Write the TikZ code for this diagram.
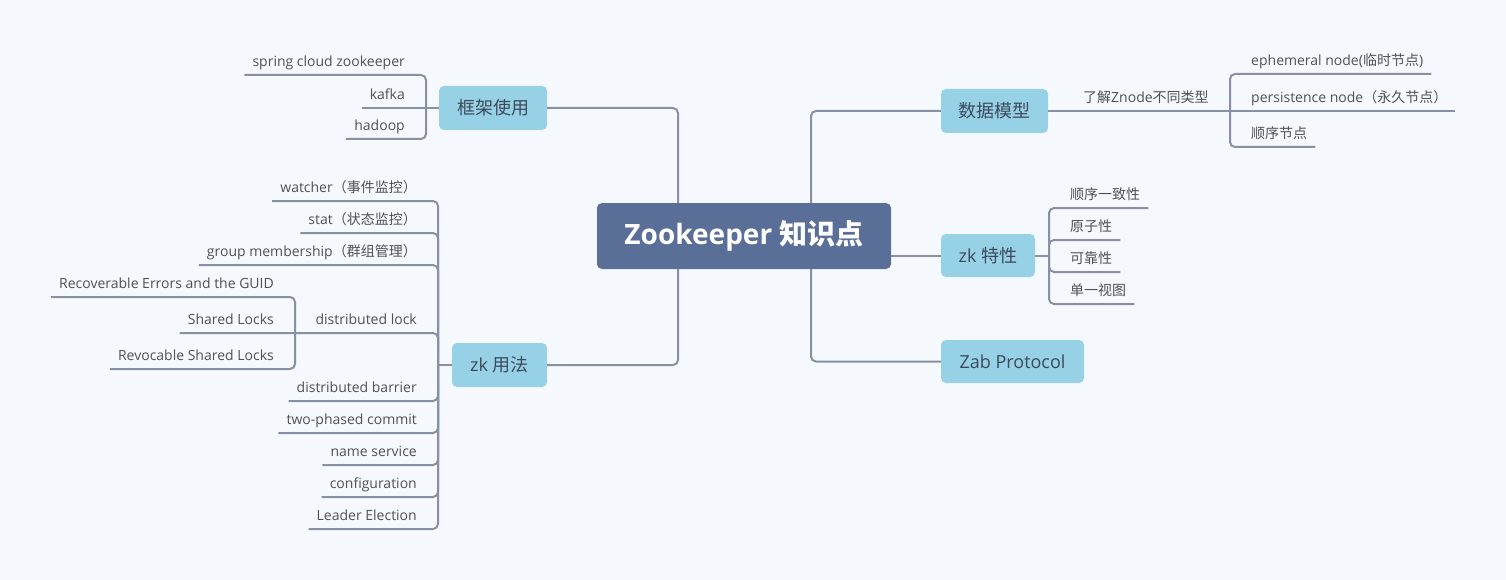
\documentclass[tikz,border=0pt]{standalone}
\usepackage{fontspec}
\setmainfont{Open Sans}
\newfontfamily\cjkfont{Noto Sans CJK SC}
\definecolor{pagebg}{HTML}{F5F9FD}
\definecolor{linegray}{HTML}{8891A4}
\definecolor{topicblue}{HTML}{96D1E6}
\definecolor{rootblue}{HTML}{5A6F97}
\definecolor{topictext}{HTML}{3E4A5B}
\definecolor{leaftext}{HTML}{4E5257}

\begin{document}
\begin{tikzpicture}[x=1pt,y=-1pt,
    branch/.style={draw=linegray,line width=2pt,rounded corners=5pt},
    topic/.style={fill=topicblue,rounded corners=5pt,inner sep=0,minimum height=44pt,text=topictext,font=\topicfontsize},
    leaf/.style={inner xsep=8pt,inner ysep=5pt,text height=11pt,text depth=3pt,text=leaftext,font=\leaffontsize},
    leafl/.style={leaf,anchor=south east},
    leafr/.style={leaf,anchor=south west}]
    \pgfmathsetmacro{\lefttrunk}{678}
    \pgfmathsetmacro{\righttrunk}{811}
    \pgfmathsetmacro{\fwbracket}{426}
    \pgfmathsetmacro{\usebracket}{438}
    \pgfmathsetmacro{\lockbracket}{295}
    \pgfmathsetmacro{\modelbracket}{1230}
    \pgfmathsetmacro{\featbracket}{1049}
    \pgfmathsetmacro{\gap}{13}
    % \pgfmathsetmacro{\gap}{12}
    \providecommand{\rootfontsize}{\fontsize{28}{32}\selectfont\bfseries}
    \providecommand{\topicfontsize}{\fontsize{18}{22}\selectfont}
    \providecommand{\leaffontsize}{\fontsize{14}{17}\selectfont}
    \fill[pagebg] (0,0) rectangle (1506,580);
    \coordinate (lt) at (\lefttrunk,0);
    \coordinate (rt) at (\righttrunk,0);
    \coordinate (fwj) at (\fwbracket,108);
    \coordinate (uj) at (\usebracket,365);
    \coordinate (dlj) at (\lockbracket,333);
    \coordinate (mj) at (\modelbracket,111);
    \coordinate (ftj) at (\featbracket,255.5);
    \node[fill=rootblue,rounded corners=5pt,minimum width=294pt,minimum height=66pt,inner sep=0,text=white,font=\rootfontsize] (root) at (744,236) {Zookeeper {\cjkfont 知识点}};
    \node[topic,minimum width=108pt] (fw) at (493,108) {\cjkfont 框架使用};
    \node[topic,minimum width=95pt] (usage) at (499.5,365) {zk {\cjkfont 用法}};
    \node[topic,minimum width=107pt] (model) at (994.5,111) {\cjkfont 数据模型};
    \node[topic,minimum width=94pt,minimum height=43pt] (feat) at (988,255.5) {zk {\cjkfont 特性}};
    \node[topic,minimum width=143pt,minimum height=43pt] (zab) at (1012.5,361.5) {Zab Protocol};
    \draw[branch] (fw.east) -| (root.north -| lt);
    \draw[branch] (usage.east) -| (root.south -| lt);
    \draw[branch] (root.north -| rt) |- (model.west);
    \draw[branch] (root.south -| rt) |- (zab.west);
    \draw[branch] (feat.west -| root.east) -- (feat.west);
    % framework
    \node[leafl] (sc) at (\fwbracket-\gap,75) {spring cloud zookeeper};
    \node[leafl] (kafka) at (\fwbracket-\gap,108) {kafka};
    \node[leafl] (hadoop) at (\fwbracket-\gap,139) {hadoop};
    \draw[branch] (fw.west) -- (fwj);
    \draw[branch] (fwj) |- (sc.south west);
    \draw[branch] (fwj) -- (kafka.south west);
    \draw[branch] (fwj) |- (hadoop.south west);
    % usage
    \node[leafl] (watcher) at (\usebracket-\gap,201) {watcher{\cjkfont （事件监控）}};
    \node[leafl] (stat) at (\usebracket-\gap,233) {stat{\cjkfont （状态监控）}};
    \node[leafl] (group) at (\usebracket-\gap,265) {group membership{\cjkfont （群组管理）}};
    \node[leafl] (dlock) at (\usebracket-\gap,333) {distributed lock};
    \node[leafl] (barrier) at (\usebracket-\gap,401) {distributed barrier};
    \node[leafl] (commit) at (\usebracket-\gap,433) {two-phased commit};
    \node[leafl] (naming) at (\usebracket-\gap,465) {name service};
    \node[leafl] (config) at (\usebracket-\gap,497) {configuration};
    \node[leafl] (leader) at (\usebracket-\gap,529) {Leader Election};
    \node[leafl] (rec) at (\lockbracket-\gap,297) {Recoverable Errors and the GUID};
    \node[leafl] (shared) at (\lockbracket-\gap,333) {Shared Locks};
    \node[leafl] (rev) at (\lockbracket-\gap,369) {Revocable Shared Locks};
    \draw[branch] (usage.west) -- (uj);
    \foreach \n in {watcher,stat,group,barrier,commit,naming,config,leader}
        \draw[branch] (uj) |- (\n.south west);
    \draw[branch] (uj) |- (dlock.south west) -- (dlj) -- (shared.south west);
    \draw[branch] (dlj) |- (rec.south west);
    \draw[branch] (dlj) |- (rev.south west);
    % data model
    \node[leafr] (ztype) at (1075,111) {{\cjkfont 了解}Znode{\cjkfont 不同类型}};
    \node[leafr] (eph) at (\modelbracket+\gap,74) {ephemeral node({\cjkfont 临时节点})};
    \node[leafr] (pers) at (\modelbracket+\gap,111) {persistence node{\cjkfont （永久节点）}};
    \node[leafr] (seqn) at (\modelbracket+\gap,147) {\cjkfont 顺序节点};
    \draw[branch] (model.east) -- (ztype.south west) -- (mj);
    \draw[branch] (mj) |- (eph.south east);
    \draw[branch] (mj) -- (pers.south east);
    \draw[branch] (mj) |- (seqn.south east);
    % features
    \node[leafr] (order) at (\featbracket+\gap,208) {\cjkfont 顺序一致性};
    \node[leafr] (atomic) at (\featbracket+\gap,240) {\cjkfont 原子性};
    \node[leafr] (reliable) at (\featbracket+\gap,272) {\cjkfont 可靠性};
    \node[leafr] (view) at (\featbracket+\gap,304) {\cjkfont 单一视图};
    \draw[branch] (feat.east) -- (ftj);
    \foreach \n in {order,atomic,reliable,view}
        \draw[branch] (ftj) |- (\n.south east);
\end{tikzpicture}
\end{document}
